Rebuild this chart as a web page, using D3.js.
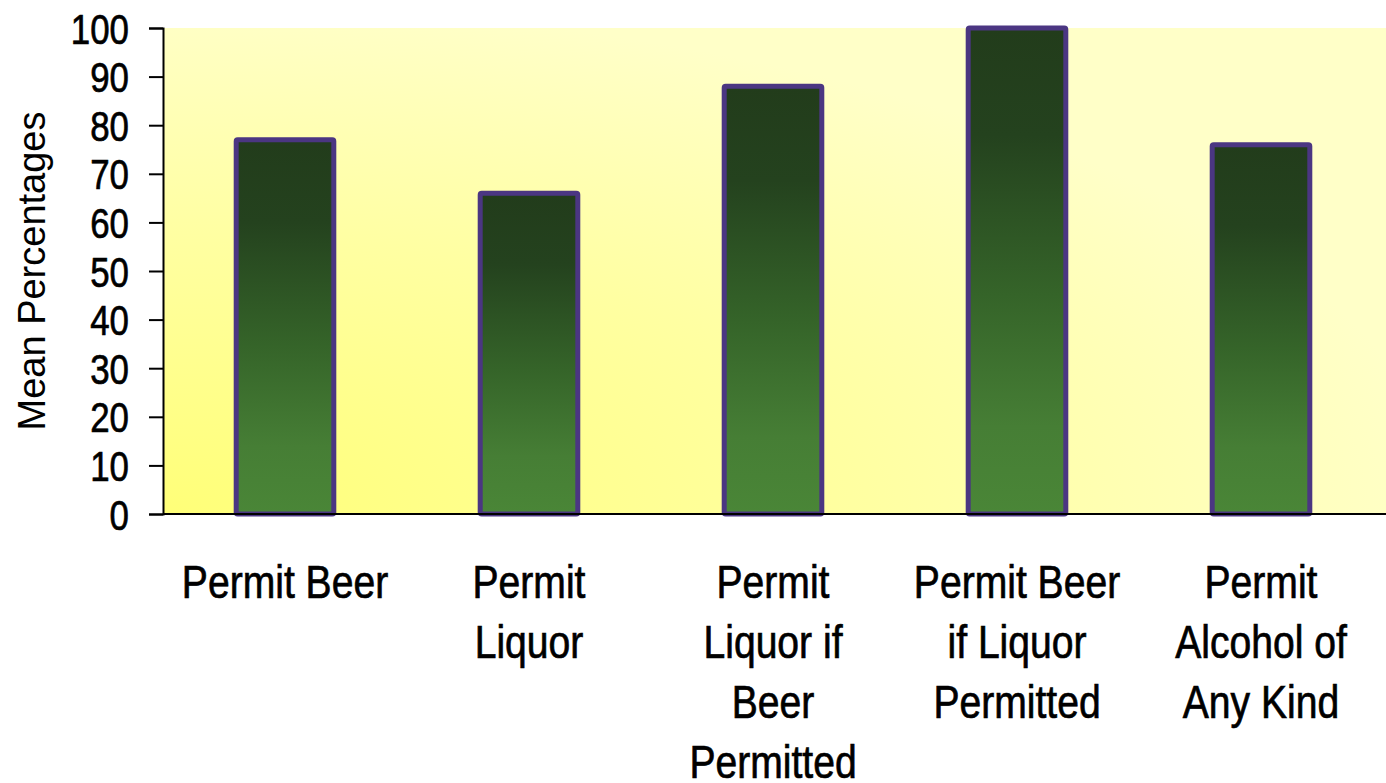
<!DOCTYPE html>
<html>
<head>
<meta charset="utf-8">
<script src="https://cdn.jsdelivr.net/npm/d3@7"></script>
<style>
    html, body { margin: 0; padding: 0; background: #fff; }
    svg text { font-family: "Liberation Sans", Arial, sans-serif; fill: #000; }
    svg text.heavy { stroke: #000; stroke-width: 0.7px; }
</style>
</head>
<body>
<svg id="chart" width="1386" height="783"></svg>
<script>
var categories = [
    ["Permit Beer"],
    ["Permit", "Liquor"],
    ["Permit", "Liquor if", "Beer", "Permitted"],
    ["Permit Beer", "if Liquor", "Permitted"],
    ["Permit", "Alcohol of", "Any Kind"]
];
var meanPercentages = [77, 66, 88, 100, 76];
var yTicks = [0, 10, 20, 30, 40, 50, 60, 70, 80, 90, 100];
var yTitle = "Mean Percentages";

var svg = d3.select("#chart"),
    plot = { left: 163, right: 1383, top: 28, bottom: 514 },
    ids = categories.map(function (d, i) { return i; }),
    // no narrow face installed, so squeeze the Arial-metric one instead
    tickNarrow = 0.83,
    labelNarrow = 0.85;

var x = d3.scaleBand()
    .domain(ids)
    .range([plot.left, plot.right])
    .paddingInner(0.6)
    .paddingOuter(0.3);
var y = d3.scaleLinear()
    .domain([0, 100])
    .range([plot.bottom, plot.top]);

var defs = svg.append("defs");

// pale-to-strong yellow wash, strongest at the bottom left corner
var bg = defs.append("radialGradient")
    .attr("id", "bgFill")
    .attr("cx", 0).attr("cy", 1).attr("r", 1.05)
    .attr("fx", 0).attr("fy", 1);
bg.append("stop").attr("offset", 0).attr("stop-color", "#ffff78");
bg.append("stop").attr("offset", 0.55).attr("stop-color", "#ffffa2");
bg.append("stop").attr("offset", 1).attr("stop-color", "#ffffc8");

var barFill = defs.append("linearGradient")
    .attr("id", "barFill")
    .attr("x1", 0).attr("y1", 0).attr("x2", 0).attr("y2", 1);
barFill.append("stop").attr("offset", 0).attr("stop-color", "#223c1b");
barFill.append("stop").attr("offset", 0.22).attr("stop-color", "#24421e");
barFill.append("stop").attr("offset", 0.55).attr("stop-color", "#356429");
barFill.append("stop").attr("offset", 0.82).attr("stop-color", "#467e35");
barFill.append("stop").attr("offset", 1).attr("stop-color", "#4a8637");

svg.append("rect")
    .attr("x", plot.left)
    .attr("y", plot.top)
    .attr("width", 1386 - plot.left)
    .attr("height", plot.bottom - plot.top)
    .attr("fill", "url(#bgFill)");

svg.append("g")
    .attr("class", "bars")
  .selectAll("rect")
    .data(meanPercentages)
  .enter().append("rect")
    .attr("x", function (d, i) { return x(i); })
    .attr("y", function (d) { return y(d); })
    .attr("width", x.bandwidth())
    .attr("height", function (d) { return y(0) - y(d); })
    .attr("rx", 1.5)
    .attr("fill", "url(#barFill)")
    .attr("stroke", "#4b3682")
    .attr("stroke-width", 5)
    .attr("stroke-linejoin", "round");

// y axis
var yAxis = svg.append("g")
    .attr("class", "y-axis")
    .attr("transform", "translate(" + plot.left + ",0)")
    .call(d3.axisLeft(y).tickValues(yTicks).tickSize(14).tickPadding(20));
yAxis.attr("font-family", null).attr("font-size", null);
yAxis.select(".domain")
    .attr("stroke", "#000")
    .attr("stroke-width", 2);
yAxis.selectAll(".tick line")
    .attr("stroke", "#000")
    .attr("stroke-width", 2);
yAxis.selectAll(".tick text")
    .classed("heavy", true)
    .attr("font-size", 42)
    .attr("dy", "0.36em")
    .attr("x", -34 / tickNarrow)
    .attr("transform", "scale(" + tickNarrow + ",1)");

// baseline
svg.append("line")
    .attr("x1", plot.left)
    .attr("x2", 1386)
    .attr("y1", y(0))
    .attr("y2", y(0))
    .attr("stroke", "#000")
    .attr("stroke-width", 2);

// category labels, one tspan per line
var labels = svg.append("g")
    .attr("class", "x-labels")
  .selectAll("g")
    .data(categories)
  .enter().append("g")
    .attr("transform", function (d, i) {
        return "translate(" + (x(i) + x.bandwidth() / 2) + ",598) scale(" + labelNarrow + ",1)";
    })
  .append("text")
    .attr("class", "heavy")
    .attr("text-anchor", "middle")
    .attr("font-size", 46);
labels.selectAll("tspan")
    .data(function (d) { return d; })
  .enter().append("tspan")
    .attr("x", 0)
    .attr("dy", function (d, j) { return j === 0 ? 0 : 60; })
    .text(function (d) { return d; });

svg.append("text")
    .attr("transform", "translate(45," + ((plot.top + plot.bottom) / 2) + ") rotate(-90)")
    .attr("text-anchor", "middle")
    .attr("font-size", 38)
    .text(yTitle);
</script>
</body>
</html>
